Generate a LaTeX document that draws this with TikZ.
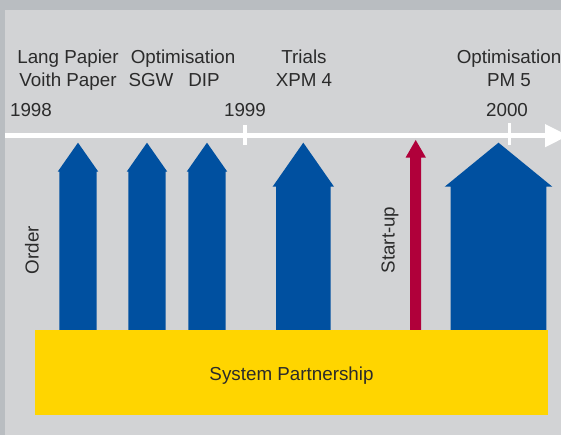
\documentclass[tikz,border=0pt]{standalone}
\usepackage{fontspec}
\setmainfont{Liberation Sans}
\definecolor{framegray}{HTML}{B9BDC1}
\definecolor{panelgray}{HTML}{D2D3D5}
\definecolor{orderblue}{HTML}{0050A0}
\definecolor{startred}{HTML}{B0003A}
\definecolor{partneryellow}{HTML}{FFD500}
\definecolor{labelgray}{HTML}{2B2B2B}

\begin{document}
\begin{tikzpicture}[x=1pt, y=-1pt, font=\fontsize{18.8}{22}\selectfont, text=labelgray,
    lbl/.style={anchor=base, inner sep=0pt}]
        \useasboundingbox (0,0) rectangle (561,435);
        \fill[framegray] (0,0) rectangle (561,435);
        \fill[panelgray] (5,10) rectangle (561,435);

        % time axis
        \draw[white, line width=5pt] (5,135.7)--(546,135.7);
        \fill[white] (545,124)--(568,135.7)--(545,147.3)--cycle;
        \draw[white, line width=3.5pt] (245,125)--(245,145);
        \draw[white, line width=3.5pt] (509.5,123)--(509.5,145);

        \node[lbl] (y98) at (31,117) {1998};
        \node[lbl] (y99) at (245,117) {1999};
        \node[lbl] (y00) at (507,117) {2000};

        \node[lbl] (lang) at (68,64) {Lang Papier};
        \node[lbl] (voith) at (68,87) {Voith Paper};
        \node[lbl] (optsgw) at (183,64) {Optimisation};
        \node[lbl] (sgw) at (151,87) {SGW};
        \node[lbl] (dip) at (204,87) {DIP};
        \node[lbl] (trials) at (304,64) {Trials};
        \node[lbl] (xpm) at (304,87) {XPM 4};
        \node[lbl] (optpm) at (509,64) {Optimisation};
        \node[lbl] (pm) at (509,87) {PM 5};

        % orders
        \foreach \cx/\hw/\sw/\hb in {78/20.3/18.7/171.7, 147/20.3/18.7/171.7, 207/20.3/18.7/171.7,
                303.3/30.7/27.3/186.7, 498.5/53.8/47.9/186.7}
            \fill[orderblue] (\cx,142.7)--(\cx+\hw,\hb)--(\cx+\sw,\hb)--(\cx+\sw,330)
                --(\cx-\sw,330)--(\cx-\sw,\hb)--(\cx-\hw,\hb)--cycle;
        \fill[startred] (415.7,140)--(426,157.7)--(421,157.7)--(421,330)--(410,330)
            --(410,157.7)--(405.5,157.7)--cycle;

        \node[lbl, rotate=90] (order) at (38.5,250) {Order};
        \node[lbl, rotate=90] (startup) at (394.5,240) {Start-up};

        \fill[partneryellow] (35,330) rectangle (548,415);
        \node[lbl] (partner) at (291.5,380) {System Partnership};
    \end{tikzpicture}
\end{document}
